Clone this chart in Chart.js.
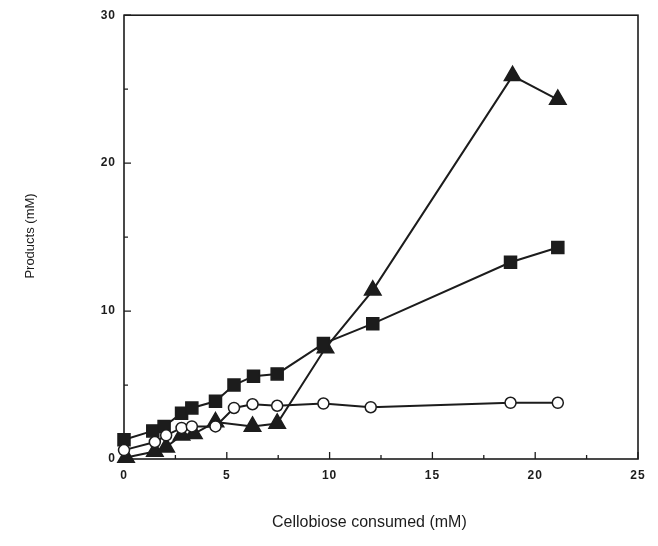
<!DOCTYPE html>
<html>
<head>
<meta charset="utf-8">
<script src="https://cdn.jsdelivr.net/npm/chart.js@4/dist/chart.umd.min.js"></script>
<style>
  html, body { margin: 0; padding: 0; background: #fff; }
  #wrap { width: 658px; height: 546px; }
</style>
</head>
<body>
<div id="wrap"><canvas id="grafico" width="658" height="546"></canvas></div>
<script>
// cellobiose consumed (mM) vs products (mM)
const squareX = [0, 1.4, 1.95, 2.8, 3.3, 4.45, 5.35, 6.3, 7.45, 9.7, 12.1, 18.8, 21.1];
const squareY = [1.3, 1.9, 2.2, 3.1, 3.45, 3.9, 5.0, 5.6, 5.75, 7.8, 9.15, 13.3, 14.3];

const circleX = [0, 1.5, 2.05, 2.8, 3.3, 4.45, 5.35, 6.25, 7.45, 9.7, 12.0, 18.8, 21.1];
const circleY = [0.6, 1.15, 1.6, 2.1, 2.2, 2.2, 3.45, 3.7, 3.6, 3.75, 3.5, 3.8, 3.8];

const triangleX = [0.1, 1.5, 2.05, 2.8, 3.4, 4.45, 6.25, 7.45, 9.8, 12.1, 18.9, 21.1];
const triangleY = [0.1, 0.5, 0.8, 1.6, 1.7, 2.5, 2.2, 2.4, 7.5, 11.4, 25.9, 24.3];

const xTicks = [0, 5, 10, 15, 20, 25];
const yTicks = [0, 10, 20, 30];
const xMinor = [2.5, 7.5, 12.5, 17.5, 22.5];
const yMinor = [5, 15, 25];

const xTitle = 'Cellobiose consumed (mM)';
const yTitle = 'Products (mM)';

const ink = '#1c1c1c';
const toPoints = (xs, ys) => xs.map((x, i) => ({ x, y: ys[i] }));

// frame, inward tick marks and axis titles
const marcoPlugin = {
  id: 'marco',
  beforeDraw(chart) {
    // spaced-out tick numbers like the original typesetting
    chart.ctx.letterSpacing = '1px';
  },
  beforeDatasetsDraw(chart) {
    const { ctx, chartArea: a, scales } = chart;
    ctx.letterSpacing = '0px';
    ctx.save();
    ctx.strokeStyle = ink;
    ctx.lineWidth = 1.6;
    ctx.strokeRect(a.left, a.top, a.right - a.left, a.bottom - a.top);
    ctx.lineWidth = 1.3;
    ctx.beginPath();
    xTicks.forEach(v => {
      const px = scales.x.getPixelForValue(v);
      ctx.moveTo(px, a.bottom); ctx.lineTo(px, a.bottom - 7);
    });
    xMinor.forEach(v => {
      const px = scales.x.getPixelForValue(v);
      ctx.moveTo(px, a.bottom); ctx.lineTo(px, a.bottom - 4);
    });
    yTicks.forEach(v => {
      const py = scales.y.getPixelForValue(v);
      ctx.moveTo(a.left, py); ctx.lineTo(a.left + 7, py);
    });
    yMinor.forEach(v => {
      const py = scales.y.getPixelForValue(v);
      ctx.moveTo(a.left, py); ctx.lineTo(a.left + 4, py);
    });
    ctx.stroke();

    // the x title sits a bit left of the plot centre
    ctx.fillStyle = ink;
    ctx.textBaseline = 'middle';
    ctx.font = '16px "Liberation Sans"';
    ctx.textAlign = 'left';
    ctx.fillText(xTitle, 272, 523);
    ctx.translate(30, 236);
    ctx.rotate(-Math.PI / 2);
    ctx.textAlign = 'center';
    ctx.font = '13px "Liberation Sans"';
    ctx.fillText(yTitle, 0, 0);
    ctx.restore();
  }
};

const serie = (data, style, fill, radius, order) => ({
  data,
  showLine: true,
  clip: false,
  borderColor: ink,
  borderWidth: 2,
  pointStyle: style,
  pointRadius: radius,
  pointBackgroundColor: fill,
  pointBorderColor: ink,
  pointBorderWidth: 1.5,
  tension: 0,
  order
});

new Chart(document.getElementById('grafico').getContext('2d'), {
  type: 'scatter',
  data: {
    datasets: [
      serie(toPoints(triangleX, triangleY), 'triangle', ink, 9.5, 3),
      serie(toPoints(squareX, squareY), 'rect', ink, 8.5, 2),
      serie(toPoints(circleX, circleY), 'circle', '#fff', 5.5, 1)
    ]
  },
  options: {
    responsive: false,
    animation: false,
    layout: { padding: { left: 0, right: 20, top: 13, bottom: 0 } },
    plugins: {
      legend: { display: false },
      tooltip: { enabled: false }
    },
    scales: {
      x: {
        type: 'linear',
        min: 0,
        max: 25,
        afterBuildTicks: s => { s.ticks = xTicks.map(v => ({ value: v })); },
        afterFit: s => { s.height = 87; },
        ticks: { color: ink, padding: 9, font: { family: 'Liberation Sans', size: 12, weight: 'bold' } },
        grid: { display: false, drawTicks: false },
        border: { display: false }
      },
      y: {
        type: 'linear',
        min: 0,
        max: 30,
        afterBuildTicks: s => { s.ticks = yTicks.map(v => ({ value: v })); },
        afterFit: s => { s.width = 124; },
        ticks: { color: ink, padding: 8, font: { family: 'Liberation Sans', size: 12, weight: 'bold' } },
        grid: { display: false, drawTicks: false },
        border: { display: false }
      }
    }
  },
  plugins: [marcoPlugin]
});
</script>
</body>
</html>
